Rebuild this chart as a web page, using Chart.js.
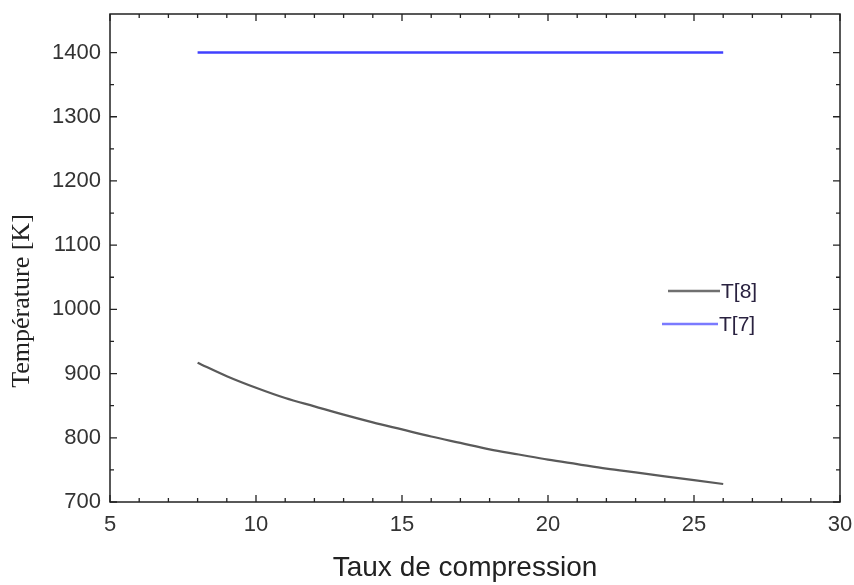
<!DOCTYPE html>
<html>
<head>
<meta charset="utf-8">
<script src="https://cdn.jsdelivr.net/npm/chart.js@4.4.1/dist/chart.umd.min.js"></script>
<style>
  html, body { margin: 0; padding: 0; background: #fff; }
  #wrap { width: 854px; height: 585px; }
</style>
</head>
<body>
<div id="wrap"><canvas id="tempChart"></canvas></div>
<script>
// Taux de compression (axe x)
const tauxCompression = [8, 9, 10, 11, 12, 13, 14, 15, 16, 17, 18, 19, 20, 21, 22, 23, 24, 25, 26];
const tempT8 = [917, 896, 878, 862, 849, 836, 824, 813, 802, 792, 782, 774, 766, 759, 752, 746, 740, 734, 728];
// Température T[7] (K), constante
const tempT7 = [1400, 1400, 1400, 1400, 1400, 1400, 1400, 1400, 1400, 1400, 1400, 1400, 1400, 1400, 1400, 1400, 1400, 1400, 1400];
const nomsSeries = ['T[8]', 'T[7]'];
const xTitre = 'Taux de compression';
const yTitre = 'Température [K]';

const toPoints = (ys) => ys.map((v, i) => ({ x: tauxCompression[i], y: v }));

// Cadre, graduations vers l'intérieur, titres et légende
const cadre = {
    id: 'cadre',
    afterDraw(chart) {
        const { ctx, chartArea: a, scales: { x, y } } = chart;
        ctx.save();
        ctx.strokeStyle = '#222';
        ctx.lineWidth = 1.5;
        ctx.strokeRect(a.left, a.top, a.right - a.left, a.bottom - a.top);

        ctx.lineWidth = 1.3;
        ctx.beginPath();
        x.ticks.forEach(t => {
            const px = x.getPixelForValue(t.value);
            const len = t.value % 5 === 0 ? 7 : 4;
            ctx.moveTo(px, a.bottom); ctx.lineTo(px, a.bottom - len);
            ctx.moveTo(px, a.top); ctx.lineTo(px, a.top + len);
        });
        y.ticks.forEach(t => {
            const py = y.getPixelForValue(t.value);
            const len = t.value % 100 === 0 ? 7 : 4;
            ctx.moveTo(a.left, py); ctx.lineTo(a.left + len, py);
            ctx.moveTo(a.right, py); ctx.lineTo(a.right - len, py);
        });
        ctx.stroke();

        // titre axe y (serif)
        ctx.fillStyle = '#222';
        ctx.font = '26px "Liberation Serif", "DejaVu Serif", serif';
        ctx.textAlign = 'center';
        ctx.textBaseline = 'middle';
        ctx.translate(22, 301);
        ctx.rotate(-Math.PI / 2);
        ctx.fillText(yTitre, 0, 0);
        ctx.setTransform(1, 0, 0, 1, 0, 0);

        // titre axe x
        ctx.font = '28px "Liberation Sans", Arial, sans-serif';
        ctx.fillText(xTitre, 465, a.bottom + 66);

        // légende
        const items = [
            { label: nomsSeries[0], color: '#707070', x0: 668, x1: 720, y: 291 },
            { label: nomsSeries[1], color: '#7a7aff', x0: 662, x1: 718, y: 324 }
        ];
        ctx.font = '21px "Liberation Sans", Arial, sans-serif';
        ctx.textAlign = 'left';
        items.forEach(it => {
            ctx.strokeStyle = it.color;
            ctx.lineWidth = 2.5;
            ctx.beginPath();
            ctx.moveTo(it.x0, it.y);
            ctx.lineTo(it.x1, it.y);
            ctx.stroke();
            ctx.fillStyle = '#2a2240';
            ctx.fillText(it.label, it.x1 + 1, it.y + 1);
        });
        ctx.restore();
    }
};

document.addEventListener('DOMContentLoaded', function() {
    const ctx = document.getElementById('tempChart').getContext('2d');
    new Chart(ctx, {
        type: 'line',
        data: {
            datasets: [
                {
                    label: nomsSeries[0],
                    data: toPoints(tempT8),
                    borderColor: '#5a5a5a',
                    borderWidth: 2.2,
                    pointRadius: 0,
                    cubicInterpolationMode: 'monotone',
                    fill: false
                },
                {
                    label: nomsSeries[1],
                    data: toPoints(tempT7),
                    borderColor: '#4040ff',
                    borderWidth: 2.5,
                    pointRadius: 0,
                    fill: false
                }
            ]
        },
        options: {
            responsive: true,
            maintainAspectRatio: false,
            animation: false,
            layout: { padding: { top: 14, right: 14, left: 0, bottom: 0 } },
            plugins: {
                legend: { display: false },
                tooltip: { enabled: false }
            },
            scales: {
                x: {
                    type: 'linear',
                    min: 5,
                    max: 30,
                    grid: { display: false, drawTicks: false },
                    border: { display: false },
                    ticks: {
                        stepSize: 1,
                        autoSkip: false,
                        maxRotation: 0,
                        padding: 10,
                        color: '#333',
                        font: { family: '"Liberation Sans", Arial, sans-serif', size: 22 },
                        callback: v => (v % 5 === 0 ? v : '')
                    },
                    afterFit: s => { s.height = 83; s.paddingLeft = 0; s.paddingRight = 0; }
                },
                y: {
                    min: 700,
                    max: 1460,
                    grid: { display: false, drawTicks: false },
                    border: { display: false },
                    afterBuildTicks: s => { s.ticks = s.ticks.filter(t => t.value % 50 === 0); },
                    ticks: {
                        stepSize: 50,
                        autoSkip: false,
                        padding: 9,
                        color: '#333',
                        font: { family: '"Liberation Sans", Arial, sans-serif', size: 22 },
                        callback: v => (v % 100 === 0 ? v : '')
                    },
                    afterFit: s => { s.width = 110; s.paddingTop = 0; s.paddingBottom = 0; }
                }
            }
        },
        plugins: [cadre]
    });
});
</script>
</body>
</html>
